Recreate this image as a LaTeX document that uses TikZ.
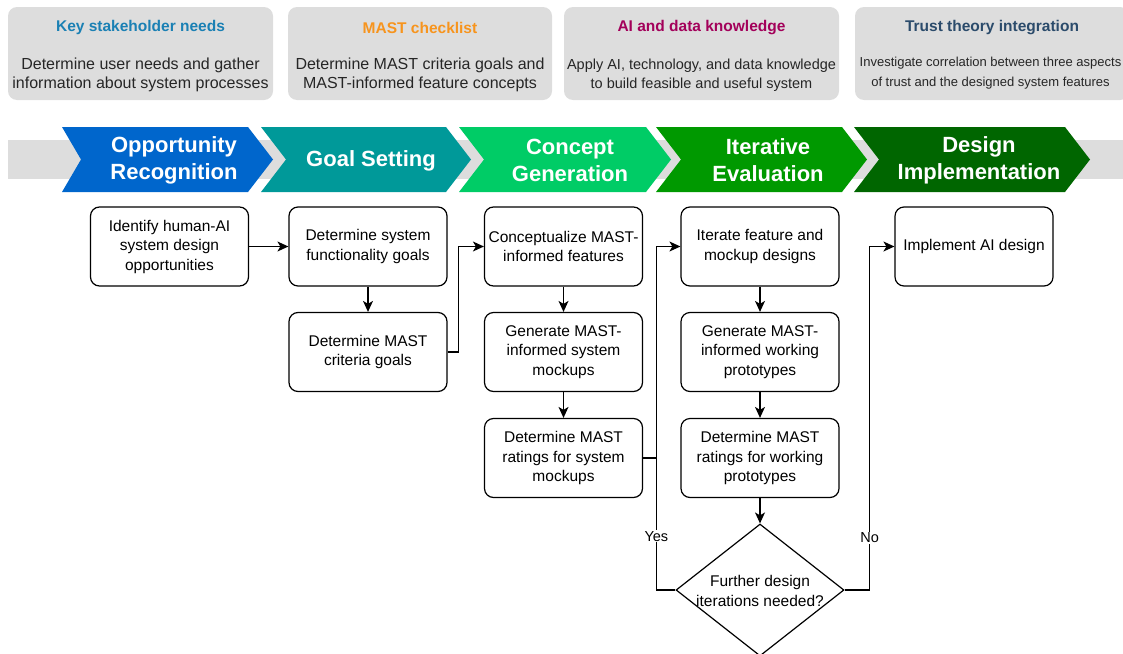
\documentclass[tikz,border=0pt]{standalone}
\usepackage{fontspec}
\setmainfont{Liberation Sans}
\usepackage{tikz}
\usetikzlibrary{shapes.geometric,arrows.meta,calc,positioning}

\definecolor{oppblue}{HTML}{0066CC}
\definecolor{goalteal}{HTML}{009999}
\definecolor{concgreen}{HTML}{00CC66}
\definecolor{itergreen}{HTML}{009900}
\definecolor{implgreen}{HTML}{006600}
\definecolor{bargrey}{HTML}{DDDDDD}
\definecolor{keyblue}{HTML}{1A80B4}
\definecolor{mastorange}{HTML}{F7941D}
\definecolor{aimagenta}{HTML}{A3005A}
\definecolor{trustblue}{HTML}{2B4B6B}

\begin{document}
\begin{tikzpicture}
[x=1pt,y=-1pt,>={Stealth[length=11pt,width=10pt,inset=3pt]},
 infobox/.style = {fill=bargrey, rounded corners=9pt, minimum height=93pt, inner sep=0pt},
 infotitle/.style = {font=\fontsize{15.5}{18}\selectfont\bfseries},
 infotext/.style = {align=center, font=\fontsize{16}{18.5}\selectfont, text=black!85},
 phase/.style = {align=center, text=white, font=\fontsize{22}{27}\selectfont\bfseries},
 flowbox/.style = {draw, line width=1.2pt, rounded corners=9pt, align=center, minimum width=158pt, minimum height=79pt, inner sep=1pt, font=\fontsize{15.5}{19.5}\selectfont},
 decision/.style = {draw, line width=1.2pt, diamond, minimum width=168pt, minimum height=132pt, inner sep=0pt},
 answer/.style = {fill=white, inner sep=1pt, font=\fontsize{14.5}{17}\selectfont},
 every path/.style = {line width=1.2pt}]
\useasboundingbox (0,0) rectangle (1123,653);

% top boxes
\node (key-box) at (140.5,53.5) [infobox, minimum width=265pt] {};
\node (key-title) at (140.5,27.5) [infotitle, text=keyblue] {Key stakeholder needs};
\node (key-text) at (140.5,75) [infotext] {Determine user needs and gather\\information about system processes};
\node (mast-box) at (420,53.5) [infobox, minimum width=264pt] {};
\node (mast-title) at (420,27.5) [infotitle, text=mastorange] {MAST checklist};
\node (mast-text) at (420,75) [infotext] {Determine MAST criteria goals and\\MAST-informed feature concepts};
\node (ai-box) at (701.5,53.5) [infobox, minimum width=275pt] {};
\node (ai-title) at (701.5,27.5) [infotitle, text=aimagenta] {AI and data knowledge};
\node (ai-text) at (701.5,75) [infotext, font=\fontsize{14.5}{18.5}\selectfont] {Apply AI, technology, and data knowledge\\to build feasible and useful system};
\node (trust-box) at (992,53.5) [infobox, minimum width=274pt] {};
\node (trust-title) at (992,27.5) [infotitle, text=trustblue] {Trust theory integration};
\node (trust-text) at (990.5,73) [infotext, font=\fontsize{13}{20}\selectfont] {Investigate correlation between three aspects\\of trust and the designed system features};

% phases
\fill[bargrey] (8,140) rectangle (1123,179);
\foreach \l/\r/\d/\c/\tx/\t/\nm in {62/248/19/oppblue/174/{Opportunity\\Recognition}/opp,
  261/446/25/goalteal/371/{Goal Setting}/goal,
  459/646/25/concgreen/570/{Concept\\Generation}/conc,
  656/842/25/itergreen/768/{Iterative\\Evaluation}/iter,
  854/1065/25/implgreen/979/{Design\\Implementation}/impl}
{
  \fill[\c] (\l,127) -- (\r,127) -- (\r+25,159.5) -- (\r,192) -- (\l,192) -- (\l+\d,159.5) -- cycle;
  \node (ph-\nm) at (\tx,160.5) [phase] {\t};
}

% flow
\node (ident) at (169.5,246.5) [flowbox] {Identify human-AI\\system design\\opportunities};
\node (func) at (368,246.5) [flowbox] {Determine system\\functionality goals};
\node (crit) at (368,352) [flowbox] {Determine MAST\\criteria goals};
\node (feat) at (563.5,246.5) [flowbox] {Conceptualize MAST-\\informed features};
\node (mock) at (563.5,352) [flowbox] {Generate MAST-\\informed system\\mockups};
\node (mockrate) at (563.5,458) [flowbox] {Determine MAST\\ratings for system\\mockups};
\node (iterate) at (760,246.5) [flowbox] {Iterate feature and\\mockup designs};
\node (proto) at (760,352) [flowbox] {Generate MAST-\\informed working\\prototypes};
\node (protorate) at (760,458) [flowbox] {Determine MAST\\ratings for working\\prototypes};
\node (implement) at (974,246.5) [flowbox] {Implement AI design};
\node (further) at (760,590) [decision] {};
\node (further-text) at (760,591) [align=center, font=\fontsize{15.5}{20}\selectfont] {Further design\\iterations needed?};

\draw[->] (ident) -- (func);
\draw[->] (func) -- (crit);
\draw[->] (crit.east) -- ++(11,0) |- (feat.west);
\draw[->] (feat) -- (mock);
\draw[->] (mock) -- (mockrate);
\draw[->] (iterate) -- (proto);
\draw[->] (proto) -- (protorate);
\draw[->] (protorate) -- (further);
\draw[->] (further.west) -- ++(-19,0) coordinate (yes-corner) |- (iterate.west) node[answer, pos=0.078] {Yes};
\draw (mockrate.east) -- (mockrate.east -| yes-corner);
\draw[->] (further.east) -- ++(25,0) |- (implement.west) node[answer, pos=0.076] {No};
\end{tikzpicture}
\end{document}
